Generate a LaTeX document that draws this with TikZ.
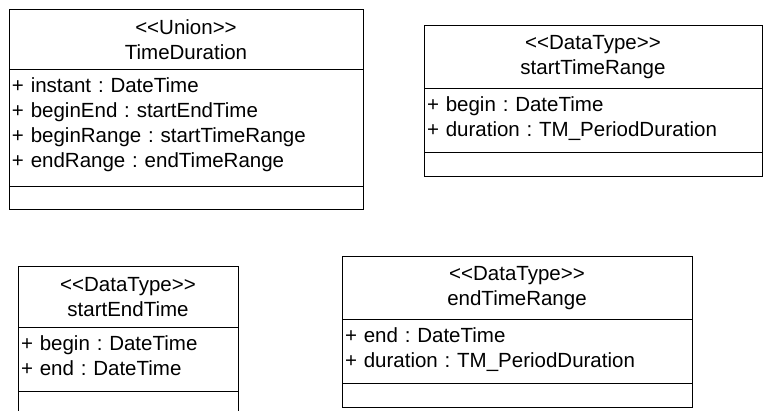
\documentclass[tikz,border=0pt]{standalone}
\usepackage{fontspec}
\setmainfont{Liberation Sans}
\usepackage{tikz}
\usetikzlibrary{positioning}
\frenchspacing
\tikzset{
  classhead/.style={rectangle, draw=black, line width=1pt, outer sep=0pt, inner sep=0pt,
                    minimum height=63pt, align=center, font=\fontsize{20.5}{25}\selectfont},
  classattr/.style={rectangle, draw=black, line width=1pt, outer sep=0pt, inner xsep=3pt,
                    inner ysep=0pt, align=left, text height=23pt, text depth=#1,
                    font=\fontsize{20.5}{25}\selectfont},
  classattr/.default=41pt,
  classops/.style={rectangle, draw=black, line width=1pt, outer sep=0pt, minimum height=24pt}
}

\begin{document}
\begin{tikzpicture}[x=1pt, y=-1pt]
\path[use as bounding box, clip] (0,0) rectangle (764,411);

% Union class
\node (tdHead) [classhead, minimum width=354pt, minimum height=60pt, anchor=north west] at (9,10) {<{}<Union>{}>\\TimeDuration};
\node (tdAttr) [classattr=94pt, text width=348pt, below=0pt of tdHead] {+ instant : DateTime\\+ beginEnd : startEndTime\\+ beginRange : startTimeRange\\+ endRange : endTimeRange};
\node (tdOps) [classops, minimum width=354pt, minimum height=23pt, below=0pt of tdAttr] {};

% Data types
\node (strHead) [classhead, minimum width=338pt, anchor=north west] at (424,26) {<{}<DataType>{}>\\startTimeRange};
\node (strAttr) [classattr, text width=332pt, below=0pt of strHead] {+ begin : DateTime\\+ duration : TM\_PeriodDuration};
\node (strOps) [classops, minimum width=338pt, below=0pt of strAttr] {};

\node (setHead) [classhead, minimum width=220pt, minimum height=61pt, anchor=north west] at (18,267) {<{}<DataType>{}>\\startEndTime};
\node (setAttr) [classattr, text width=214pt, below=0pt of setHead] {+ begin : DateTime\\+ end : DateTime};
\node (setOps) [classops, minimum width=220pt, below=0pt of setAttr] {};

\node (etrHead) [classhead, minimum width=350pt, anchor=north west] at (342,257) {<{}<DataType>{}>\\endTimeRange};
\node (etrAttr) [classattr, text width=344pt, below=0pt of etrHead] {+ end : DateTime\\+ duration : TM\_PeriodDuration};
\node (etrOps) [classops, minimum width=350pt, below=0pt of etrAttr] {};
\end{tikzpicture}
\end{document}
